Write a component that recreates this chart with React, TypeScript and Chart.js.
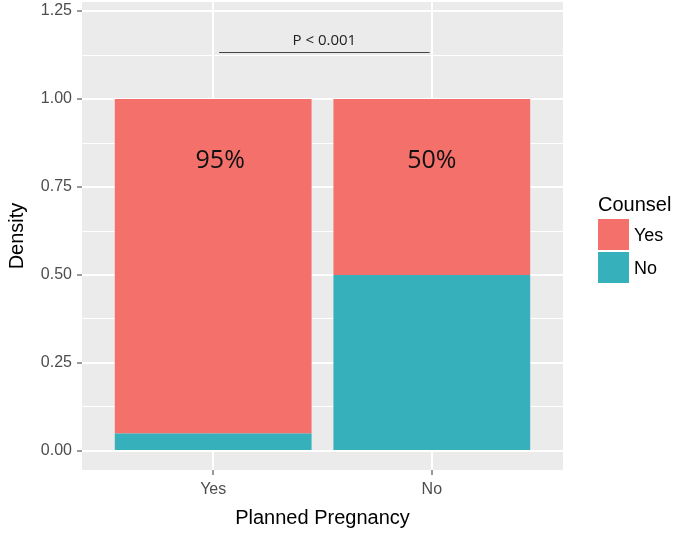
import { useEffect, useRef } from 'react';
import { Chart, registerables } from 'chart.js';

Chart.register(...registerables);

const categories = ['Yes', 'No'];
const counselYes = [0.95, 0.5];
const counselNo = [0.05, 0.5];
const yMajorTicks = [0, 0.25, 0.5, 0.75, 1.0, 1.25];
const yMinorTicks = [0.125, 0.375, 0.625, 0.875, 1.125];
const pctLabels = ['95%', '50%'];
const pctLabelY = 0.825;
const pText = 'P < 0.001';
const pLineFrom = 1.027;
const pLineTo = 1.99;
const pLineY = 1.134;
const pTextY = 1.165;
const legendTitle = 'Counsel';
const legendLabels = ['Yes', 'No'];

const RED = '#F3716A';
const TEAL = '#36B0BB';
const PANEL = '#EBEBEB';
const SANS = '"Liberation Sans", Arial, sans-serif';
const ANNOT = '"Open Sans", "Noto Sans", sans-serif';

const isMajor = (v: number) => Math.abs(v / 0.25 - Math.round(v / 0.25)) < 1e-6;

export default function App() {
  const ref = useRef<HTMLCanvasElement | null>(null);

  useEffect(() => {
    if (!ref.current) return;

    const panelBg = {
      id: 'panelBg',
      beforeDraw(chart: any) {
        const { ctx, chartArea: a } = chart;
        ctx.save();
        ctx.fillStyle = '#ffffff';
        ctx.fillRect(0, 0, chart.width, chart.height);
        ctx.fillStyle = PANEL;
        ctx.fillRect(a.left, a.top, a.right - a.left, a.bottom - a.top);
        ctx.restore();
      },
    };

    const annotations = {
      id: 'annotations',
      afterDatasetsDraw(chart: any) {
        const { ctx } = chart;
        const xs = chart.scales.x;
        const ys = chart.scales.y;
        ctx.save();
        ctx.fillStyle = '#111';
        ctx.font = `25px ${ANNOT}`;
        ctx.textAlign = 'center';
        ctx.textBaseline = 'middle';
        pctLabels.forEach((t, i) => {
          const px = xs.getPixelForValue(i + 1) + (i === 0 ? 7 : 0);
          ctx.fillText(t, px, ys.getPixelForValue(pctLabelY));
        });
        // p-value bracket
        ctx.strokeStyle = '#444';
        ctx.lineWidth = 1;
        ctx.beginPath();
        const ly = Math.round(ys.getPixelForValue(pLineY)) + 0.5;
        ctx.moveTo(xs.getPixelForValue(pLineFrom), ly);
        ctx.lineTo(xs.getPixelForValue(pLineTo), ly);
        ctx.stroke();
        ctx.font = `15px ${ANNOT}`;
        ctx.fillStyle = '#222';
        ctx.fillText(pText, (xs.getPixelForValue(pLineFrom) + xs.getPixelForValue(pLineTo)) / 2, ys.getPixelForValue(pTextY));
        ctx.restore();
      },
      afterDraw(chart: any) {
        const { ctx, chartArea: a } = chart;
        const lx = a.right + 35;
        ctx.save();
        ctx.textBaseline = 'middle';
        ctx.textAlign = 'left';
        ctx.fillStyle = '#000';
        ctx.font = `20px ${SANS}`;
        ctx.fillText(legendTitle, lx, 205);
        const colors = [RED, TEAL];
        legendLabels.forEach((t, i) => {
          const top = 219 + i * 33;
          ctx.fillStyle = colors[i];
          ctx.fillRect(lx, top, 31, 31);
          ctx.fillStyle = '#000';
          ctx.font = `18px ${SANS}`;
          ctx.fillText(t, lx + 36, top + 17);
        });
        ctx.restore();
      },
    };

    const chart = new Chart(ref.current, {
      type: 'bar',
      data: {
        datasets: [
          {
            label: 'No',
            data: counselNo.map((v, i) => ({ x: i + 1, y: v })),
            backgroundColor: TEAL,
            borderWidth: 0,
          },
          {
            label: 'Yes',
            data: counselYes.map((v, i) => ({ x: i + 1, y: v })),
            backgroundColor: RED,
            borderWidth: 0,
          },
        ],
      },
      options: {
        animation: false,
        responsive: false,
        events: [],
        layout: { autoPadding: false, padding: { top: 2, right: 117, left: 0, bottom: 0 } },
        plugins: { legend: { display: false }, tooltip: { enabled: false } },
        datasets: { bar: { categoryPercentage: 1, barPercentage: 0.9 } },
        scales: {
          x: {
            type: 'linear',
            min: 0.4,
            max: 2.6,
            stacked: true,
            offset: false,
            afterBuildTicks: (s: any) => {
              s.ticks = categories.map((_, i) => ({ value: i + 1 }));
            },
            afterFit: (s: any) => {
              s.height = 64;
              s.paddingLeft = 0;
              s.paddingRight = 0;
            },
            ticks: {
              autoSkip: false,
              maxRotation: 0,
              padding: 5,
              color: '#4D4D4D',
              font: { size: 16, family: SANS },
              callback: (v: any) => categories[Math.round(v) - 1] ?? '',
            },
            grid: {
              offset: false,
              color: '#FFFFFF',
              lineWidth: 2,
              tickLength: 5,
              tickColor: '#333333',
              tickWidth: 1,
            },
            border: { display: false },
            title: {
              display: true,
              text: 'Planned Pregnancy',
              color: '#000',
              font: { size: 20, family: SANS },
              padding: { top: 0, bottom: 4 },
            },
          },
          y: {
            type: 'linear',
            min: -0.054,
            max: 1.2756,
            stacked: true,
            afterBuildTicks: (s: any) => {
              s.ticks = [...yMajorTicks, ...yMinorTicks].sort((a, b) => a - b).map((v) => ({ value: v }));
            },
            afterFit: (s: any) => {
              s.width = 82;
              s.paddingTop = 0;
              s.paddingBottom = 0;
            },
            ticks: {
              autoSkip: false,
              padding: 5,
              color: '#4D4D4D',
              font: { size: 16, family: SANS },
              callback: (v: any) => (isMajor(Number(v)) ? Number(v).toFixed(2) : ''),
            },
            grid: {
              color: '#FFFFFF',
              lineWidth: (c: any) => (c.tick && isMajor(c.tick.value) ? 2 : 1),
              tickLength: 5,
              tickColor: (c: any) => (c.tick && isMajor(c.tick.value) ? '#333333' : 'rgba(0,0,0,0)'),
              tickWidth: 1,
            },
            border: { display: false },
            title: {
              display: true,
              text: 'Density',
              color: '#000',
              font: { size: 20, family: SANS },
              padding: { top: 5, bottom: 0 },
            },
          },
        },
      } as any,
      plugins: [panelBg, annotations],
    });

    return () => chart.destroy();
  }, []);

  return (
    <div style={{ position: 'fixed', left: 0, top: 0, width: 680, height: 534, background: '#fff' }}>
      <canvas ref={ref} width={680} height={534} style={{ display: 'block' }} />
    </div>
  );
}
